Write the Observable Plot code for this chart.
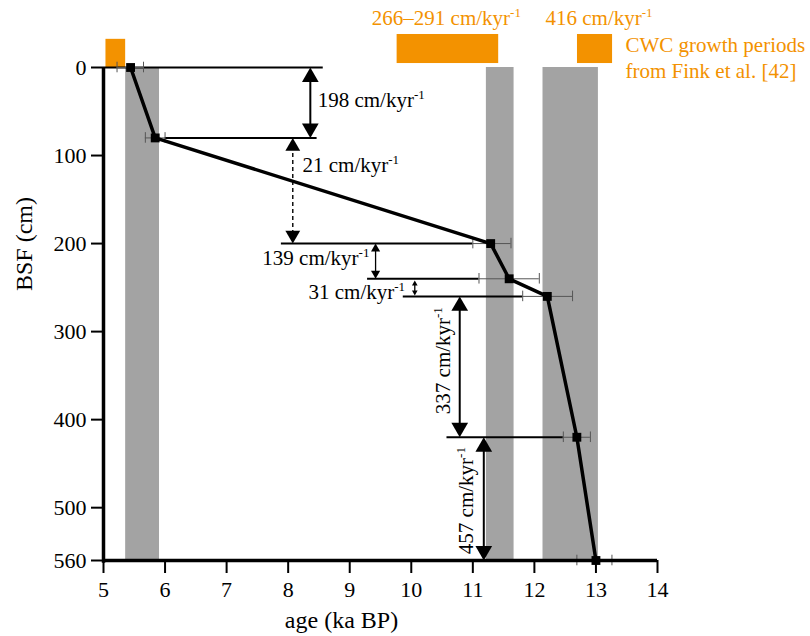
<!DOCTYPE html>
<html>
<head>
<meta charset="utf-8">
<script src="https://cdn.jsdelivr.net/npm/d3@7"></script>
<script src="https://cdn.jsdelivr.net/npm/@observablehq/plot@0.6"></script>
<style>
  body { margin: 0; background: white; }
  #chart svg { display: block; }
</style>
</head>
<body>
<div id="chart"></div>
<script>
// ---- data ----
const ages   = [5.44, 5.84, 11.29, 11.59, 12.21, 12.69, 13.0];   // ka BP
const depths = [0, 80, 200, 240, 260, 420, 560];                   // cm BSF
const errLo  = [5.22, 5.68, 11.0, 11.10, 11.81, 12.47, 12.69];
const errHi  = [5.65, 6.00, 11.62, 12.08, 12.62, 12.91, 13.26];

const grayBands = [ {x1: 5.36, x2: 5.91}, {x1: 11.22, x2: 11.67}, {x1: 12.14, x2: 13.04} ];
const growthPeriods = [ {x1: 5.04, x2: 5.36}, {x1: 9.77, x2: 11.42}, {x1: 12.70, x2: 13.27} ];
const growthRates = ["266–291 cm/kyr-1", "416 cm/kyr-1"];
const growthNote = ["CWC growth periods", "from Fink et al. [42]"];

// depth marker lines (depth, start age, end age)
const markerDepth = [0, 80, 200, 240, 260, 420];
const markerFrom  = [5.0, 6.0, 7.89, 9.29, 9.87, 10.58];
const markerTo    = [8.57, 8.47, 11.0, 11.10, 11.81, 12.47];

// sedimentation-rate arrows
const rateText  = ["198 cm/kyr-1", "21 cm/kyr-1", "139 cm/kyr-1", "31 cm/kyr-1", "337 cm/kyr-1", "457 cm/kyr-1"];
const arrowAge  = [8.36, 8.075, 9.42, 10.057, 10.787, 11.178];
const arrowTop  = [0, 80, 200, 242, 260, 420];
const arrowBot  = [80, 200, 240, 259, 420, 560];

const xTicks = [5, 6, 7, 8, 9, 10, 11, 12, 13, 14];
const yTicks = [0, 100, 200, 300, 400, 500, 560];

// ---- tables ----
const points = ages.map((a, i) => ({age: a, depth: depths[i], lo: errLo[i], hi: errHi[i]}));
const markers = markerDepth.map((d, i) => ({depth: d, x1: markerFrom[i], x2: markerTo[i]}));
const headSize = [6.2, 5.5, 3.4, 2.1, 6.2, 6.2];
const arrows = rateText.map((t, i) => ({text: t, x: arrowAge[i], y1: arrowTop[i], y2: arrowBot[i], r: headSize[i], dashed: i === 1}));

const ORANGE = "#f39200";
const GRAY = "#a3a3a3";
const FONT = "Liberation Serif";

// arrow marks
const arrowMarks = arrows.flatMap(a => {
  const off = 2 * Math.sqrt(Math.PI * a.r * a.r / (3 * Math.sqrt(3)));
  const sw = a.r > 5 ? 2 : 1.3;
  return [
    Plot.ruleX([a], {x: "x", y1: "y1", y2: "y2", stroke: "black", strokeWidth: a.dashed ? 1.4 : sw,
      strokeDasharray: a.dashed ? "4,3" : null, insetTop: off, insetBottom: off}),
    Plot.dot([a], {x: "x", y: "y1", symbol: "triangle", r: a.r, fill: "black", stroke: null, dy: off}),
    Plot.dot([a], {x: "x", y: "y2", symbol: "triangle", r: a.r, fill: "black", stroke: null, rotate: 180, dy: -off})
  ];
});

// label positions (age, depth) for rate annotations
const labelPos = [
  {x: 8.48, y: 37.5, anchor: "start", rotate: 0},
  {x: 8.233, y: 111, anchor: "start", rotate: 0},
  {x: 9.32, y: 217, anchor: "end", rotate: 0},
  {x: 9.90, y: 255, anchor: "end", rotate: 0},
  {x: 10.52, y: 333, anchor: "middle", rotate: -90},
  {x: 10.90, y: 492, anchor: "middle", rotate: -90}
];
const labelMarks = rateText.map((t, i) => Plot.text([t], {
  x: () => labelPos[i].x, y: () => labelPos[i].y, text: d => d,
  textAnchor: labelPos[i].anchor, rotate: labelPos[i].rotate, fontSize: 21, fill: "black", fontFamily: FONT
}));

const chart = Plot.plot({
  width: 810,
  height: 636,
  marginLeft: 103,
  marginRight: 153,
  marginTop: 67,
  marginBottom: 76,
  style: {fontFamily: FONT, fontSize: "21px"},
  x: {domain: [5, 14]},
  y: {domain: [0, 560], reverse: true},
  marks: [
    Plot.rect(grayBands, {x1: "x1", x2: "x2", y1: 0, y2: 560, fill: GRAY}),
    Plot.rect(growthPeriods.slice(0, 1), {x1: "x1", x2: "x2", y1: -32, y2: 1, fill: ORANGE}),
    Plot.rect(growthPeriods.slice(1), {x1: "x1", x2: "x2", y1: -37.5, y2: -4.5, fill: ORANGE}),
    Plot.text([growthRates[0]], {x: () => 10.57, y: () => -56, text: d => d, fill: ORANGE, fontSize: 21, fontFamily: FONT}),
    Plot.text([growthRates[1]], {x: () => 13.05, y: () => -56, text: d => d, fill: ORANGE, fontSize: 21, fontFamily: FONT}),
    Plot.text([growthNote[0]], {x: () => 13.48, y: () => -25, text: d => d, fill: ORANGE, fontSize: 21, textAnchor: "start", fontFamily: FONT}),
    Plot.text([growthNote[1]], {x: () => 13.48, y: () => 4, text: d => d, fill: ORANGE, fontSize: 21, textAnchor: "start", fontFamily: FONT}),
    // depth marker lines
    Plot.ruleY(markers, {y: "depth", x1: "x1", x2: "x2", stroke: "black", strokeWidth: 2}),
    // error bars
    Plot.ruleY(points, {y: "depth", x1: "lo", x2: "hi", stroke: "#555", strokeWidth: 1}),
    Plot.ruleX(points, {x: "lo", y1: d => d.depth - 6, y2: d => d.depth + 6, stroke: "#555", strokeWidth: 1}),
    Plot.ruleX(points, {x: "hi", y1: d => d.depth - 6, y2: d => d.depth + 6, stroke: "#555", strokeWidth: 1}),
    // age-depth model
    Plot.line(points, {x: "age", y: "depth", stroke: "black", strokeWidth: 3.5}),
    Plot.dot(points, {x: "age", y: "depth", symbol: "square", r: 5, fill: "black", stroke: null}),
    ...arrowMarks,
    ...labelMarks,
    // axes
    Plot.axisY(yTicks, {tickSize: 12, tickPadding: 5, fontSize: 22, strokeWidth: 2, label: null, fontFamily: FONT}),
    Plot.axisX(xTicks, {tickSize: 13, tickPadding: 8, fontSize: 22, strokeWidth: 2, label: null, fontFamily: FONT}),
    Plot.ruleX([5], {y1: 0, y2: 563, stroke: "black", strokeWidth: 3.5}),
    Plot.ruleY([560], {x1: 5, x2: 14, stroke: "black", strokeWidth: 3.5}),
    Plot.text(["BSF (cm)"], {frameAnchor: "left", dx: -79, dy: -23, rotate: -90, fontSize: 24, fontFamily: FONT}),
    Plot.text(["age (ka BP)"], {frameAnchor: "bottom", dx: -39, dy: 67, fontSize: 24, fontFamily: FONT})
  ]
});

// superscript "-1"
chart.querySelectorAll("text").forEach(t => {
  const s = t.textContent;
  if (s.endsWith("kyr-1") && t.children.length === 0) {
    t.textContent = s.slice(0, -2);
    const ts = document.createElementNS("http://www.w3.org/2000/svg", "tspan");
    ts.setAttribute("dy", "-8");
    ts.setAttribute("font-size", "13");
    ts.textContent = "-1";
    t.appendChild(ts);
  }
});

document.getElementById("chart").appendChild(chart);
</script>
</body>
</html>
